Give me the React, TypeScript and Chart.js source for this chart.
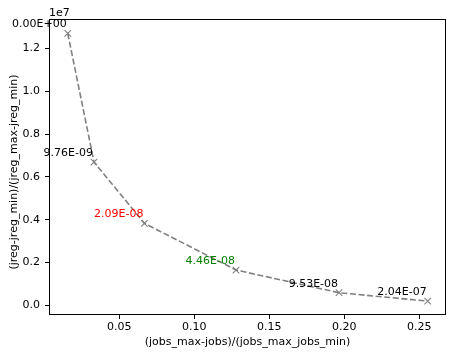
import React, { useEffect, useRef } from "react";
import { Chart, registerables } from "chart.js";

Chart.register(...registerables);

const xValues = [0.0156, 0.0331, 0.0667, 0.1278, 0.1965, 0.2556];
const yValues = [1.27e7, 0.669e7, 0.383e7, 0.165e7, 0.059e7, 0.02e7];
const pointLabels = ["0.00E+00", "9.76E-09", "2.09E-08", "4.46E-08", "9.53E-08", "2.04E-07"];
const labelColors = ["#000000", "#000000", "#ff0000", "#008000", "#000000", "#000000"];
const xTicks = [0.05, 0.1, 0.15, 0.2, 0.25];
const yTicks = [0, 0.2e7, 0.4e7, 0.6e7, 0.8e7, 1.0e7, 1.2e7];
const xTitle = "(jobs_max-jobs)/(jobs_max_jobs_min)";
const yTitle = "(jreg-jreg_min)/(jreg_max-jreg_min)";
const offsetText = "1e7";

const FONT = "DejaVu Sans";
const FS = 11;

const overlayPlugin = {
  id: "overlay",
  afterDraw(chart: any) {
    const ctx = chart.ctx;
    const a = chart.chartArea;
    const xs = chart.scales.x;
    const ys = chart.scales.y;
    ctx.save();
    ctx.strokeStyle = "#000000";
    ctx.lineWidth = 1;
    ctx.strokeRect(Math.round(a.left) + 0.5, Math.round(a.top) + 0.5, Math.round(a.right - a.left) - 1, Math.round(a.bottom - a.top) - 1);
    ctx.font = `${FS}px "${FONT}"`;
    ctx.textAlign = "right";
    ctx.textBaseline = "alphabetic";
    for (let i = 0; i < xValues.length; i++) {
      const px = xs.getPixelForValue(xValues[i]);
      const py = ys.getPixelForValue(yValues[i]);
      ctx.fillStyle = labelColors[i];
      ctx.fillText(pointLabels[i], px - 1, py - 6);
    }
    ctx.fillStyle = "#000000";
    ctx.textAlign = "left";
    ctx.fillText(offsetText, a.left, a.top - 3);
    ctx.textAlign = "center";
    ctx.textBaseline = "middle";
    ctx.fillText(xTitle, (a.left + a.right) / 2, 342.5);
    ctx.translate(14, 172);
    ctx.rotate(-Math.PI / 2);
    ctx.fillText(yTitle, 0, 0);
    ctx.restore();
  },
};

export default function App() {
  const ref = useRef<HTMLCanvasElement>(null);
  useEffect(() => {
    document.body.style.margin = "0";
    const chart = new Chart(ref.current as HTMLCanvasElement, {
      type: "scatter",
      data: {
        datasets: [
          {
            data: xValues.map((x, i) => ({ x, y: yValues[i] })),
            showLine: true,
            borderColor: "#808080",
            borderWidth: 1.6,
            borderDash: [6, 2.6],
            pointStyle: "crossRot",
            pointRadius: 4.6,
            pointBorderColor: "#808080",
            pointBackgroundColor: "#808080",
            pointBorderWidth: 1.1,
            tension: 0,
          },
        ],
      },
      options: {
        animation: false,
        responsive: false,
        devicePixelRatio: 1,
        layout: { padding: { top: 19, right: 7, left: 0, bottom: 0 } },
        plugins: { legend: { display: false }, tooltip: { enabled: false } },
        scales: {
          x: {
            type: "linear",
            min: 0.0031,
            max: 0.2678,
            afterBuildTicks: (s: any) => {
              s.ticks = xTicks.map((v) => ({ value: v }));
            },
            afterFit: (s: any) => {
              s.height = 41;
            },
            ticks: {
              padding: 2,
              color: "#000000",
              font: { family: FONT, size: FS },
              callback: (v: any) => Number(v).toFixed(2),
            },
            grid: { drawOnChartArea: false, drawTicks: true, tickLength: 4, tickColor: "#000000" },
            border: { display: false },
          },
          y: {
            type: "linear",
            min: -0.045e7,
            max: 1.337e7,
            afterBuildTicks: (s: any) => {
              s.ticks = yTicks.map((v) => ({ value: v }));
            },
            afterFit: (s: any) => {
              s.width = 49;
            },
            ticks: {
              padding: 5,
              color: "#000000",
              font: { family: FONT, size: FS },
              callback: (v: any) => (Number(v) / 1e7).toFixed(1),
            },
            grid: { drawOnChartArea: false, drawTicks: true, tickLength: 4, tickColor: "#000000" },
            border: { display: false },
          },
        },
      },
      plugins: [overlayPlugin],
    } as any);
    return () => chart.destroy();
  }, []);
  return (
    <div style={{ width: 453, height: 356 }}>
      <canvas ref={ref} width={453} height={356} style={{ display: "block" }} />
    </div>
  );
}
